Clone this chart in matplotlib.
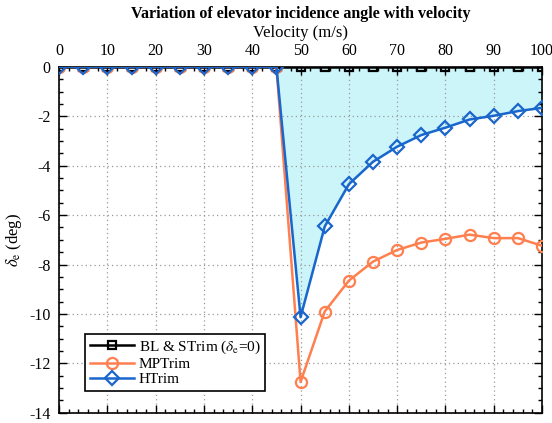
import numpy as np
import matplotlib.pyplot as plt
from matplotlib.ticker import MultipleLocator

plt.rcParams['font.family'] = ['Liberation Serif', 'DejaVu Serif']
plt.rcParams['mathtext.fontset'] = 'stix'
plt.rcParams['axes.unicode_minus'] = False

velocity = [0, 5, 10, 15, 20, 25, 30, 35, 40, 45, 50, 55, 60, 65, 70, 75, 80, 85, 90, 95, 100]
de_bl = [0] * 21
de_mp = [0, 0, 0, 0, 0, 0, 0, 0, 0, 0,
         -12.75, -9.9, -8.65, -7.88, -7.41, -7.11, -6.96, -6.79, -6.93, -6.93, -7.24]
de_h = [0, 0, 0, 0, 0, 0, 0, 0, 0, 0,
        -10.13, -6.46, -4.75, -3.84, -3.23, -2.76, -2.46, -2.13, -1.98, -1.79, -1.66]

v = np.array(velocity)
h = np.array(de_h)

fig = plt.figure(figsize=(5.52, 4.23), dpi=100)
ax = fig.add_axes([0.107, 0.024, 0.875, 0.818])

# shaded region between HTrim and zero deflection
ax.fill_between(v[v >= 45], h[v >= 45], 0, color='#ccf5fa', zorder=1)

ax.plot(velocity, de_bl, '-s', color='black', lw=1.8, ms=6, mfc='none', mew=1.6,
        label=r'BL & STrim ($\delta_{\rm e}$=0)', zorder=3)
ax.plot(velocity, de_mp, '-o', color='#ff7f4f', lw=1.8, ms=8, mfc='none', mew=1.6,
        label='MPTrim', zorder=4)
ax.plot(velocity, de_h, '-D', color='#1a66cc', lw=1.8, ms=7, mfc='none', mew=1.6,
        label='HTrim', zorder=5)

ax.set_xlim(0, 100)
ax.set_ylim(-14, 0)
ax.xaxis.set_major_locator(MultipleLocator(10))
ax.xaxis.set_minor_locator(MultipleLocator(2))
ax.yaxis.set_major_locator(MultipleLocator(2))
ax.yaxis.set_minor_locator(MultipleLocator(0.5))
ax.xaxis.tick_top()
ax.xaxis.set_label_position('top')
ax.tick_params(which='both', direction='in', top=True, bottom=True, left=True, right=True,
               labelsize=11.5, width=1, pad=6)
ax.tick_params(which='major', length=6)
ax.tick_params(which='minor', length=3)
ax.grid(True, which='major', linestyle=(0, (1, 2.5)), color='#999999', lw=0.9)
for s in ax.spines.values():
    s.set_linewidth(1.2)

ax.set_xlabel('Velocity (m/s)', fontsize=12, labelpad=4)
ax.set_ylabel(r'$\delta_{\rm e}$ (deg)', fontsize=12, labelpad=4)
ax.set_title('Variation of elevator incidence angle with velocity', fontsize=11.5,
             fontweight='bold', pad=5)

leg = ax.legend(loc='lower left', bbox_to_anchor=(0.054, 0.064), fontsize=11,
                frameon=True, fancybox=False, edgecolor='black', framealpha=1,
                handlelength=2.9, handletextpad=0.3, borderpad=0.3,
                labelspacing=0.1, borderaxespad=0)
leg.get_frame().set_linewidth(1.2)

fig.savefig('out.png', dpi=100)
